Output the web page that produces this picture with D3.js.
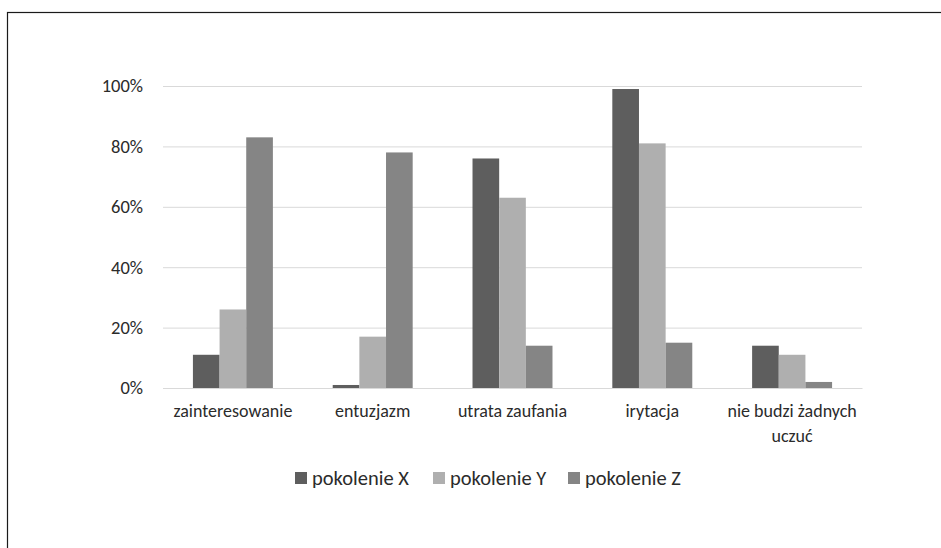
<!DOCTYPE html>
<html>
<head>
<meta charset="utf-8">
<script src="https://cdn.jsdelivr.net/npm/d3@7"></script>
<style>
  html, body { margin: 0; padding: 0; background: #fff; }
  svg { display: block; }
  text { font-family: Carlito, Calibri, Lato, sans-serif; }
</style>
</head>
<body>
<svg id="chart" width="941" height="548"></svg>
<script>
// Emotions by generation (share of respondents)
const categories = ["zainteresowanie", "entuzjazm", "utrata zaufania", "irytacja", "nie budzi żadnych uczuć"];
const seriesNames = ["pokolenie X", "pokolenie Y", "pokolenie Z"];
const pokolenieX = [11, 1, 76, 99, 14];
const pokolenieY = [26, 17, 63, 81, 11];
const pokolenieZ = [83, 78, 14, 15, 2];
const seriesColors = ["#5e5e5e", "#afafaf", "#858585"];
const yTicks = [0, 20, 40, 60, 80, 100];

const seriesValues = [pokolenieX, pokolenieY, pokolenieZ];
const rows = categories.map((c, i) => ({
  category: c,
  values: seriesNames.map((s, j) => ({ series: s, value: seriesValues[j][i], idx: j }))
}));

const svg = d3.select("#chart");
const margin = { left: 163, right: 79, top: 86, bottom: 160 };
const W = 941, H = 548;
const x0Range = [margin.left, W - margin.right];
const yRange = [H - margin.bottom, margin.top];
const textColor = "#2b2b2b";

// outer chart frame
svg.append("rect")
  .attr("x", 7.5).attr("y", 12.5)
  .attr("width", 1000).attr("height", 600)
  .attr("fill", "none").attr("stroke", "#1a1a1a").attr("stroke-width", 1.2);

const pad = 0.428;
const x0 = d3.scaleBand().domain(categories).range(x0Range).paddingInner(pad).paddingOuter(pad / 2);
const x1 = d3.scaleBand().domain(seriesNames).range([0, x0.bandwidth()]);
const y = d3.scaleLinear().domain([0, 100]).range(yRange);

// gridlines and value labels
const yAxis = d3.axisLeft(y)
  .tickValues(yTicks)
  .tickFormat(d => d + "%")
  .tickSize(-(x0Range[1] - x0Range[0]))
  .tickPadding(20);

const gy = svg.append("g")
  .attr("transform", `translate(${x0Range[0]},0)`)
  .call(yAxis);
gy.select(".domain").remove();
gy.selectAll(".tick line").attr("stroke", "#d9d9d9").attr("stroke-width", 1);
gy.selectAll(".tick text")
  .attr("fill", textColor)
  .style("font-size", "18.5px");

// bars
const groups = svg.append("g").selectAll("g")
  .data(rows)
  .join("g")
  .attr("transform", d => `translate(${x0(d.category)},0)`);

groups.selectAll("rect")
  .data(d => d.values)
  .join("rect")
  .attr("x", d => x1(d.series))
  .attr("width", x1.bandwidth())
  .attr("y", d => y(d.value))
  .attr("height", d => y(0) - y(d.value))
  .attr("fill", d => seriesColors[d.idx]);

// category axis
const xAxis = d3.axisBottom(x0).tickSize(0).tickPadding(0);
const gx = svg.append("g")
  .attr("transform", `translate(0,${y(0)})`)
  .call(xAxis);
gx.select(".domain").attr("stroke", "#d9d9d9").attr("stroke-width", 1.2);
gx.selectAll(".tick text")
  .attr("fill", textColor)
  .style("font-size", "18px")
  .attr("dy", null)
  .attr("y", 28.5)
  .each(function(d) {
    // wrap long labels to the category width
    const t = d3.select(this);
    const words = d.split(" ");
    const maxW = x0.step() - 4;
    t.text(null);
    let line = [];
    let lineNo = 0;
    let tspan = t.append("tspan").attr("x", 0).attr("y", 28.5);
    for (const w of words) {
      line.push(w);
      tspan.text(line.join(" "));
      if (tspan.node().getComputedTextLength() > maxW && line.length > 1) {
        line.pop();
        tspan.text(line.join(" "));
        line = [w];
        lineNo++;
        tspan = t.append("tspan").attr("x", 0).attr("y", 28.5 + lineNo * 25).text(w);
      }
    }
  });

// legend
const legendX = [295, 433, 568];
const legend = svg.append("g").attr("transform", "translate(0,478)");
const items = legend.selectAll("g")
  .data(seriesNames)
  .join("g")
  .attr("transform", (d, i) => `translate(${legendX[i]},0)`);
items.append("rect")
  .attr("x", 0).attr("y", -6)
  .attr("width", 12).attr("height", 12)
  .attr("fill", (d, i) => seriesColors[i]);
items.append("text")
  .attr("x", 17).attr("y", 7)
  .attr("fill", textColor)
  .style("font-size", "20.5px")
  .text(d => d);
</script>
</body>
</html>
